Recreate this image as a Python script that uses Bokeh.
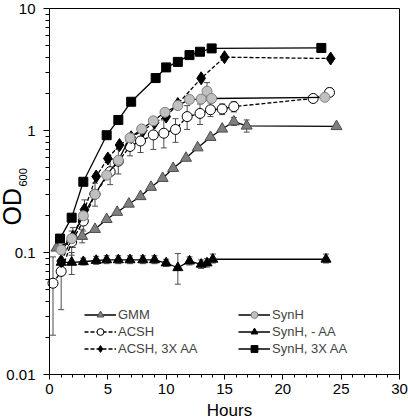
import math
from bokeh.plotting import figure
from bokeh.models import (ColumnDataSource, Whisker, TeeHead, Legend, LegendItem,
                          Label, FixedTicker, LinearAxis, LogAxis)
from bokeh.embed import file_html
from bokeh.resources import INLINE

FONT = "Liberation Sans"

# ---------------- data ----------------
gmm_h = [0.6, 2.8, 3.9, 4.9, 5.8, 6.8, 7.8, 8.7, 9.7, 10.6, 11.7, 12.7, 13.8, 14.8, 15.8, 16.9, 24.6]
gmm_od = [0.109, 0.136, 0.155, 0.187, 0.214, 0.250, 0.288, 0.343, 0.406, 0.490, 0.594, 0.723,
          0.88, 1.03, 1.18, 1.09, 1.08]
gmm_lo = [None, 0.120, None, None, None, None, None, None, None, None, None, None,
          None, None, 1.10, 0.97, None]
gmm_hi = [None, 0.155, None, None, None, None, None, None, None, None, None, None,
          None, None, 1.28, 1.22, None]

acsh_h = [0.3, 1.0, 1.9, 2.9, 3.9, 5.2, 5.9, 6.9, 7.8, 8.9, 9.8, 10.8, 11.8, 12.9, 13.8, 14.8, 15.8, 22.6, 24.0]
acsh_od = [0.056, 0.070, 0.122, 0.181, 0.30, 0.46, 0.56, 0.74, 0.82, 0.92, 0.95, 1.02, 1.30, 1.38,
           1.48, 1.50, 1.57, 1.83, 2.05]
acsh_lo = [0.021, 0.034, 0.095, 0.15, 0.24, 0.36, 0.44, 0.62, 0.66, 0.70, 0.72, 0.80, 1.02, 1.12,
           1.30, 1.35, 1.42, 1.75, 1.90]
acsh_hi = [0.092, 0.100, 0.150, 0.22, 0.37, 0.58, 0.70, 0.88, 1.00, 1.15, 1.22, 1.25, 1.60, 1.65,
           1.68, 1.65, 1.72, 1.92, 2.22]

acsh3_h = [1.0, 2.0, 3.0, 4.0, 5.0, 6.0, 7.0, 8.0, 9.0, 10.0, 11.0, 13.0, 15.0, 24.1]
acsh3_od = [0.085, 0.134, 0.225, 0.42, 0.59, 0.76, 0.88, 1.0, 1.16, 1.30, 1.65, 2.68, 3.99, 3.89]
acsh3_lo = [None, 0.11, 0.19, None, None, None, None, None, None, None, None, None, None, None]
acsh3_hi = [None, 0.16, 0.27, None, None, None, None, None, None, None, None, None, None, None]

synh_h = [1.0, 1.9, 2.9, 3.9, 4.9, 5.9, 6.9, 7.9, 8.9, 9.9, 11.0, 12.0, 13.0, 13.5, 13.9, 23.6]
synh_od = [0.105, 0.13, 0.20, 0.30, 0.43, 0.57, 0.87, 1.03, 1.20, 1.41, 1.60, 1.80, 1.81, 2.10, 1.83, 1.87]
synh_lo = [None, None, None, None, None, None, None, None, None, None, None, None, None, 1.75, None, 1.76]
synh_hi = [None, None, None, None, None, None, None, None, None, None, None, None, None, 2.47, None, 2.00]

noaa_h = [1.0, 1.9, 2.9, 4.0, 4.9, 5.9, 6.9, 8.0, 9.0, 10.0, 11.0, 12.0, 13.0, 13.5, 14.0, 23.7]
noaa_od = [0.083, 0.083, 0.084, 0.086, 0.087, 0.087, 0.087, 0.087, 0.087, 0.082, 0.075, 0.085,
           0.080, 0.082, 0.088, 0.088]
noaa_lo = [None, 0.066, 0.079, 0.080, 0.081, 0.081, 0.081, 0.081, 0.081, 0.077, 0.055, 0.079,
           0.074, 0.076, 0.082, 0.082]
noaa_hi = [None, 0.100, 0.090, 0.093, 0.094, 0.094, 0.094, 0.094, 0.094, 0.088, 0.098, 0.092,
           0.087, 0.089, 0.097, 0.097]

syn3_h = [0.9, 1.9, 2.9, 4.9, 5.9, 7.0, 9.1, 10.0, 11.0, 12.0, 12.9, 13.9, 23.3]
syn3_od = [0.130, 0.193, 0.38, 0.915, 1.22, 1.72, 2.69, 3.29, 3.65, 4.15, 4.42, 4.71, 4.75]

x_min, x_max = 0, 30
y_min, y_max = 0.01, 10
x_ticks = [0, 5, 10, 15, 20, 25, 30]
y_ticks = [0.01, 0.1, 1, 10]
y_tick_labels = ["0.01", "0.1", "1", "10"]

# ---------------- layout ----------------
# The frame covers the whole canvas; the axes are pinned at the data box edges and
# bounded, so tick labels and titles (drawn inside the frame) are never clipped.
PLOT_W, PLOT_H = 408, 420
LEFT_PAD, RIGHT_PAD, TOP_PAD, BOTTOM_PAD = 49, 9, 8, 46
box_w = PLOT_W - LEFT_PAD - RIGHT_PAD
box_h = PLOT_H - TOP_PAD - BOTTOM_PAD
x_per_px = (x_max - x_min) / box_w
x_lo = x_min - LEFT_PAD * x_per_px
x_hi = x_max + RIGHT_PAD * x_per_px
dec_per_px = (math.log10(y_max) - math.log10(y_min)) / box_h
y_lo = 10 ** (math.log10(y_min) - BOTTOM_PAD * dec_per_px)
y_hi = 10 ** (math.log10(y_max) + TOP_PAD * dec_per_px)

p = figure(width=PLOT_W, height=PLOT_H, x_range=(x_lo, x_hi), y_range=(y_lo, y_hi),
           y_axis_type="log", output_backend="svg", toolbar_location=None,
           min_border=0)
p.grid.visible = False
p.outline_line_color = None
p.background_fill_color = "white"
p.border_fill_color = "white"

xa = p.xaxis[0]
ya = p.yaxis[0]
xa.ticker = FixedTicker(ticks=x_ticks, minor_ticks=list(range(x_min, x_max + 1)))
xa.bounds = (x_min, x_max)
xa.fixed_location = y_min
minor_y = [m * 10.0 ** e for e in (-2, -1, 0) for m in range(2, 10)]
ya.ticker = FixedTicker(ticks=y_ticks, minor_ticks=minor_y)
ya.major_label_overrides = {t: l for t, l in zip(y_ticks, y_tick_labels)}
ya.bounds = (y_min, y_max)
ya.fixed_location = x_min
for ax in (xa, ya):
    ax.axis_line_color = "black"
    ax.major_tick_line_color = "black"
    ax.minor_tick_line_color = "black"
    ax.major_tick_in = 0
    ax.minor_tick_in = 0
    ax.major_label_text_font = FONT
    ax.major_label_text_font_size = "15px"
    ax.major_label_text_color = "black"
ya.major_tick_out = 6
ya.minor_tick_out = 4
ya.major_label_standoff = 8
xa.major_tick_out = 5
xa.minor_tick_out = 3
xa.major_label_standoff = 4

# box: top and right edges
top_ax = LinearAxis(fixed_location=y_max, bounds=(x_min, x_max), ticker=FixedTicker(ticks=[]),
                    major_tick_out=0, minor_tick_out=0, major_label_text_font_size="0px",
                    axis_line_color="black")
right_ax = LogAxis(fixed_location=x_max, bounds=(y_min, y_max), ticker=FixedTicker(ticks=[]),
                   major_tick_out=0, minor_tick_out=0, major_label_text_font_size="0px",
                   axis_line_color="black")
p.add_layout(top_ax, "above")
p.add_layout(right_ax, "right")


def whisk(h, lo, hi):
    idx = [i for i in range(len(h)) if lo[i] is not None]
    src = ColumnDataSource(dict(x=[h[i] for i in idx], lo=[lo[i] for i in idx], hi=[hi[i] for i in idx]))
    w = Whisker(base="x", lower="lo", upper="hi", source=src, dimension="height",
                line_color="#4d4d4d", line_width=1,
                upper_head=TeeHead(size=6, line_color="#4d4d4d", line_width=1),
                lower_head=TeeHead(size=6, line_color="#4d4d4d", line_width=1))
    p.add_layout(w)


for h, lo, hi in [(acsh_h, acsh_lo, acsh_hi), (gmm_h, gmm_lo, gmm_hi), (synh_h, synh_lo, synh_hi),
                  (noaa_h, noaa_lo, noaa_hi), (acsh3_h, acsh3_lo, acsh3_hi)]:
    whisk(h, lo, hi)

series = [
    # name, x, y, dash, marker, size, fill, outline
    ("GMM", gmm_h, gmm_od, "solid", "triangle", 11, "#7f7f7f", "#4d4d4d"),
    ("ACSH", acsh_h, acsh_od, "4 2", "circle", 10, "white", "black"),
    ("ACSH, 3X AA", acsh3_h, acsh3_od, "4 2", "diamond", 13, "black", "black"),
    ("SynH", synh_h, synh_od, "solid", "circle", 10, "#c0c0c0", "#808080"),
    ("SynH, - AA", noaa_h, noaa_od, "solid", "triangle", 10, "black", "black"),
    ("SynH, 3X AA", syn3_h, syn3_od, "solid", "square", 9, "black", "black"),
]

items = {}
for name, xs, ys, dash, marker, size, fill, outline in series:
    src = ColumnDataSource(dict(x=xs, y=ys))
    lr = p.line("x", "y", source=src, line_color="black", line_width=1.3, line_dash=dash)
    sr = p.scatter("x", "y", source=src, marker=marker, size=size, fill_color=fill,
                   line_color=outline, line_width=1)
    items[name] = LegendItem(label=name, renderers=[lr, sr])


def make_legend(names, loc):
    lg = Legend(items=[items[n] for n in names], location=loc, orientation="vertical",
                glyph_width=32, glyph_height=17, label_height=17, spacing=0,
                padding=0, margin=0, border_line_alpha=0, background_fill_alpha=0,
                label_text_font=FONT, label_text_font_size="13px", label_standoff=2)
    p.add_layout(lg, "center")


make_legend(["GMM", "ACSH", "ACSH, 3X AA"], (LEFT_PAD + 35, BOTTOM_PAD + 17))
make_legend(["SynH", "SynH, - AA", "SynH, 3X AA"], (LEFT_PAD + 189, BOTTOM_PAD + 17))

# titles (screen offsets from the canvas' bottom-left)
p.add_layout(Label(x=11, y=195, x_units="screen", y_units="screen", text="OD",
                   angle=math.pi / 2, text_font=FONT, text_font_size="25px",
                   text_baseline="alphabetic", text_align="left", text_color="black"))
p.add_layout(Label(x=22, y=234, x_units="screen", y_units="screen", text="600",
                   angle=math.pi / 2, text_font=FONT, text_font_size="11px",
                   text_baseline="alphabetic", text_align="left", text_color="black"))
p.add_layout(Label(x=229, y=10, x_units="screen", y_units="screen", text="Hours",
                   text_font=FONT, text_font_size="17px",
                   text_baseline="alphabetic", text_align="center", text_color="black"))

open("out.html", "w").write(file_html(p, INLINE))
